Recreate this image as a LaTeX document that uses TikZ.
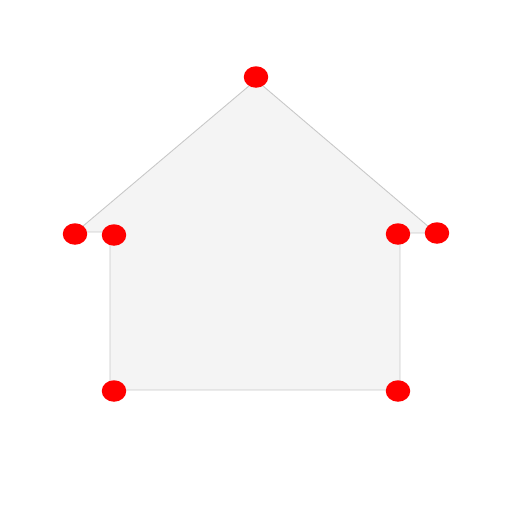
\documentclass[tikz,border=0pt]{standalone}
\usetikzlibrary{shapes.geometric}
\definecolor{wandgrau}{HTML}{F4F4F4}
\definecolor{randgrau}{HTML}{C8C8C8}
\begin{document}
\begin{tikzpicture}[
  x=0.02cm, y=-0.02cm,
  punkt/.style={ellipse, fill=red, inner sep=0pt, minimum width=0.49cm, minimum height=0.43cm},
  haus/.style={fill=wandgrau, draw=randgrau, line width=0.5pt}
]
\useasboundingbox (0,0) rectangle (512,512);
\coordinate (ul) at (110,390);
\coordinate (wl) at (110,232);
\coordinate (tl) at (76,232);
\coordinate (fi) at (256,80);
\coordinate (tr) at (436,233);
\coordinate (wr) at (400,233);
\coordinate (ur) at (400,390);
\draw[haus] (ul) -- (wl) -- (tl) -- (fi) -- (tr) -- (wr) -- (ur) -- cycle;
\node[punkt] (p1) at (256,77) {};
\node[punkt] (p2) at (75,234) {};
\node[punkt] (p3) at (114,235) {};
\node[punkt] (p4) at (398,234) {};
\node[punkt] (p5) at (437,233) {};
\node[punkt] (p6) at (114,391) {};
\node[punkt] (p7) at (398,391) {};
\end{tikzpicture}
\end{document}
